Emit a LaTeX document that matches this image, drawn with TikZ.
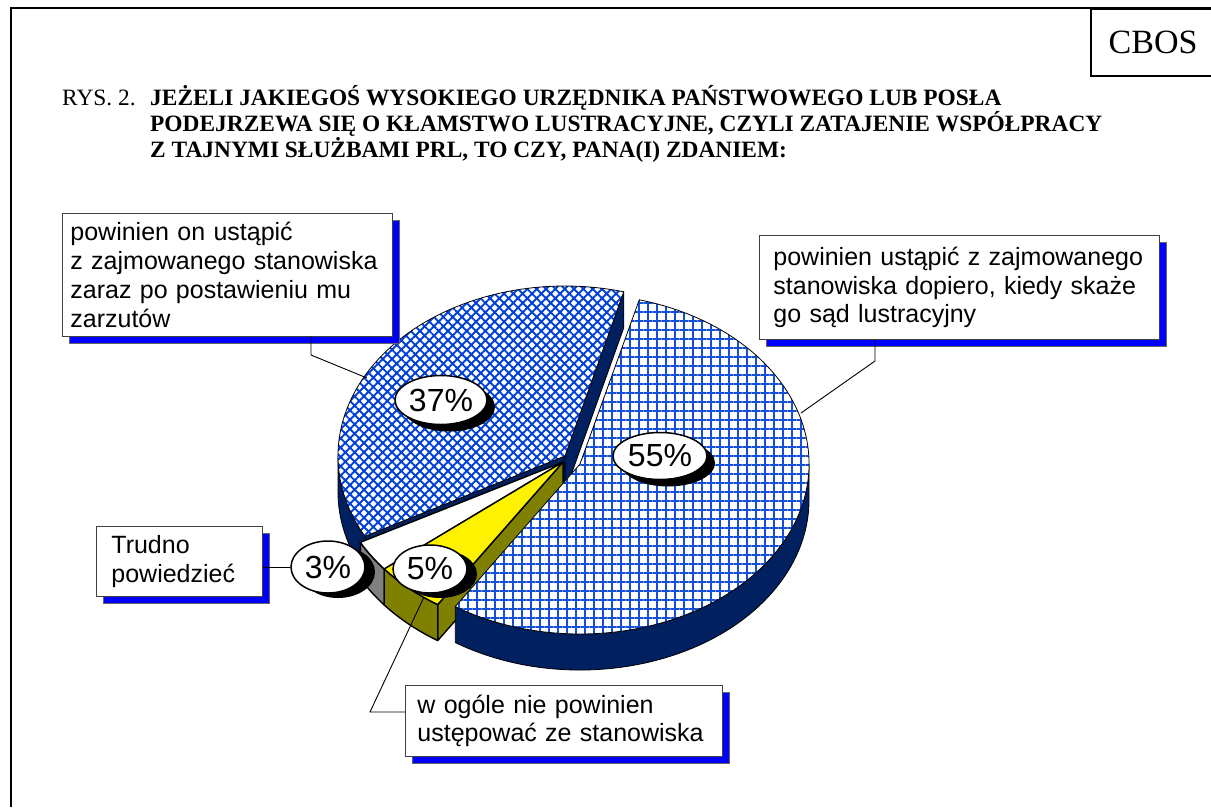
\documentclass[tikz,border=0pt]{standalone}
\usepackage{fontspec}
\setmainfont{Liberation Serif}
\newfontfamily\arialf{Liberation Sans}
\usetikzlibrary{patterns.meta,shapes.geometric,shadows,calc}
\definecolor{navy}{RGB}{0,32,96}
\definecolor{hatchblue}{RGB}{0,64,215}
\definecolor{gridblue}{RGB}{20,80,215}
\definecolor{olivec}{RGB}{128,128,0}
\definecolor{shadowblue}{RGB}{0,0,255}
\begin{document}
\begin{tikzpicture}[x=1pt,y=-1pt,
  frameline/.style={line width=2.2pt},
  lbl/.style={draw=black!75, fill=white, line width=0.8pt, anchor=north west, align=left,
    inner ysep=0pt, font=\arialf\fontsize{25}{28.75}\selectfont,
    drop shadow={shadow xshift=7pt, shadow yshift=-7pt, fill=shadowblue, draw=black!60, opacity=1}},
  pct/.style={ellipse, draw=black, line width=1.5pt, fill=white, inner sep=0pt,
    font=\arialf\fontsize{32}{32}\selectfont},
  bigshadow/.style={drop shadow={shadow xshift=8pt, shadow yshift=-7pt, fill=black, opacity=1}},
  smallshadow/.style={drop shadow={shadow xshift=10pt, shadow yshift=-5pt, fill=black, opacity=1}},
  conn/.style={line width=0.9pt, black},
  facetop/.style={draw=black, line width=0.8pt, line join=round},
  smallface/.style={draw=black, line width=1.4pt, line join=round},
  titlefont/.style={font=\bfseries\fontsize{23.4}{26}\selectfont, anchor=base west, inner sep=0pt}
]
\useasboundingbox (0,0) rectangle (1211,807);
\fill[white] (0,0) rectangle (1211,807);

% frame and CBOS box
\draw[frameline] (11,807) -- (11,8) -- (1211,8);
\node[draw, frameline, anchor=north west, minimum width=124pt, minimum height=67pt, inner sep=0pt,
  font=\fontsize{34}{34}\selectfont] (cbos) at (1090,8) {CBOS};

% title
\node[anchor=base west, inner sep=0pt, font=\fontsize{23.4}{26}\selectfont] (rys) at (62,105) {RYS. 2.};
\node[titlefont] (t1) at (150,105) {JEŻELI JAKIEGOŚ WYSOKIEGO URZĘDNIKA PAŃSTWOWEGO LUB POSŁA};
\node[titlefont] (t2) at (150,131) {PODEJRZEWA SIĘ O KŁAMSTWO LUSTRACYJNE, CZYLI ZATAJENIE WSPÓŁPRACY};
\node[titlefont] (t3) at (150,157) {Z TAJNYMI SŁUŻBAMI PRL, TO CZY, PANA(I) ZDANIEM:};

% pie centres
\coordinate (c37) at (565,456);
\coordinate (c55) at (580,464);
\coordinate (cs) at (563,462);

% 37% slice
\path[fill=navy, facetop] (c37) -- ($(c37)+(151.8:227 and 170)$) -- ++(0,36) -- ($(c37)+(0,36)$) -- cycle;
\path[fill=navy, facetop] ($(c37)+(151.8:227 and 170)$) arc[start angle=151.8,end angle=180,x radius=227,y radius=170]
  -- ++(0,36) arc[start angle=180,end angle=151.8,x radius=227,y radius=170] -- cycle;
\path[fill=navy, facetop] (c37) -- ($(c37)+(285:227 and 170)$) -- ++(0,36) -- ($(c37)+(0,36)$) -- cycle;
\path[facetop, preaction={fill=white}, pattern={Hatch[angle=45,distance=6.6pt,line width=1.9pt]}, pattern color=hatchblue]
  (c37) -- ($(c37)+(151.8:227 and 170)$) arc[start angle=151.8,end angle=285,x radius=227,y radius=170] -- cycle;

% 3% slice
\path[fill=gray, smallface] (cs) -- ($(cs)+(141:230 and 170)$) -- ++(0,36) -- ($(cs)+(0,36)$) -- cycle;
\path[fill=gray, smallface] ($(cs)+(141:230 and 170)$) arc[start angle=141,end angle=151.8,x radius=230,y radius=170]
  -- ++(0,36) arc[start angle=151.8,end angle=141,x radius=230,y radius=170] -- cycle;
\path[fill=white, smallface] (cs) -- ($(cs)+(141:230 and 170)$) arc[start angle=141,end angle=151.8,x radius=230,y radius=170] -- cycle;

% 5% slice
\path[fill=olivec, smallface] (cs) -- ($(cs)+(123:230 and 170)$) -- ++(0,36) -- ($(cs)+(0,36)$) -- cycle;
\path[fill=olivec, smallface] ($(cs)+(123:230 and 170)$) arc[start angle=123,end angle=141,x radius=230,y radius=170]
  -- ++(0,36) arc[start angle=141,end angle=123,x radius=230,y radius=170] -- cycle;
\path[fill=yellow, smallface] (cs) -- ($(cs)+(123:230 and 170)$) arc[start angle=123,end angle=141,x radius=230,y radius=170] -- cycle;

% 55% slice
\path[fill=navy, facetop] ($(c55)+(0:229 and 170)$) arc[start angle=0,end angle=123,x radius=229,y radius=170]
  -- ++(0,36) arc[start angle=123,end angle=0,x radius=229,y radius=170] -- cycle;
\path[facetop, preaction={fill=white}, pattern={Hatch[angle=0,distance=9pt,line width=1.4pt]}, pattern color=gridblue]
  (c55) -- ($(c55)+(-75:229 and 170)$) arc[start angle=-75,end angle=123,x radius=229,y radius=170] -- cycle;

% label boxes
\node[lbl, text width=314pt, inner xsep=8pt, minimum height=123pt] (boxA) at (62,213)
  {powinien on ustąpić\\z zajmowanego stanowiska\\zaraz po postawieniu mu\\zarzutów};
\node[lbl, text width=372pt, inner xsep=14pt, minimum height=104pt] (boxB) at (759,235)
  {powinien ustąpić z zajmowanego\\stanowiska dopiero, kiedy skaże\\go sąd lustracyjny};
\node[lbl, text width=136pt, inner xsep=15pt, minimum height=70pt] (boxC) at (96,526)
  {Trudno\\powiedzieć};
\node[lbl, text width=293pt, inner xsep=12pt, minimum height=71pt] (boxD) at (405,685)
  {w ogóle nie powinien\\ustępować ze stanowiska};

% connectors
\coordinate (a1) at (311,355);
\coordinate (a2) at (367,378);
\coordinate (b1) at (875,361);
\coordinate (b2) at (801,413);
\coordinate (d1) at (370,712);
\coordinate (d2) at (424,597);
\draw[conn] (boxA.south -| a1) -- (a1) -- (a2);
\draw[conn] (boxB.south -| b1) -- (b1) -- (b2);
\draw[conn] (boxD.west |- d1) -- (d1) -- (d2);

% percentage labels
\node[pct, bigshadow, minimum width=92pt, minimum height=49pt] (p37) at (441,400) {37\%};
\node[pct, bigshadow, minimum width=94pt, minimum height=47pt] (p55) at (660,456) {55\%};
\node[pct, smallshadow, minimum width=74pt, minimum height=52pt] (p3) at (328,567) {3\%};
\node[pct, smallshadow, minimum width=74pt, minimum height=48pt] (p5) at (430,569) {5\%};
\draw[conn] (p3.west) -- (p3.west -| boxC.east);
\end{tikzpicture}
\end{document}
